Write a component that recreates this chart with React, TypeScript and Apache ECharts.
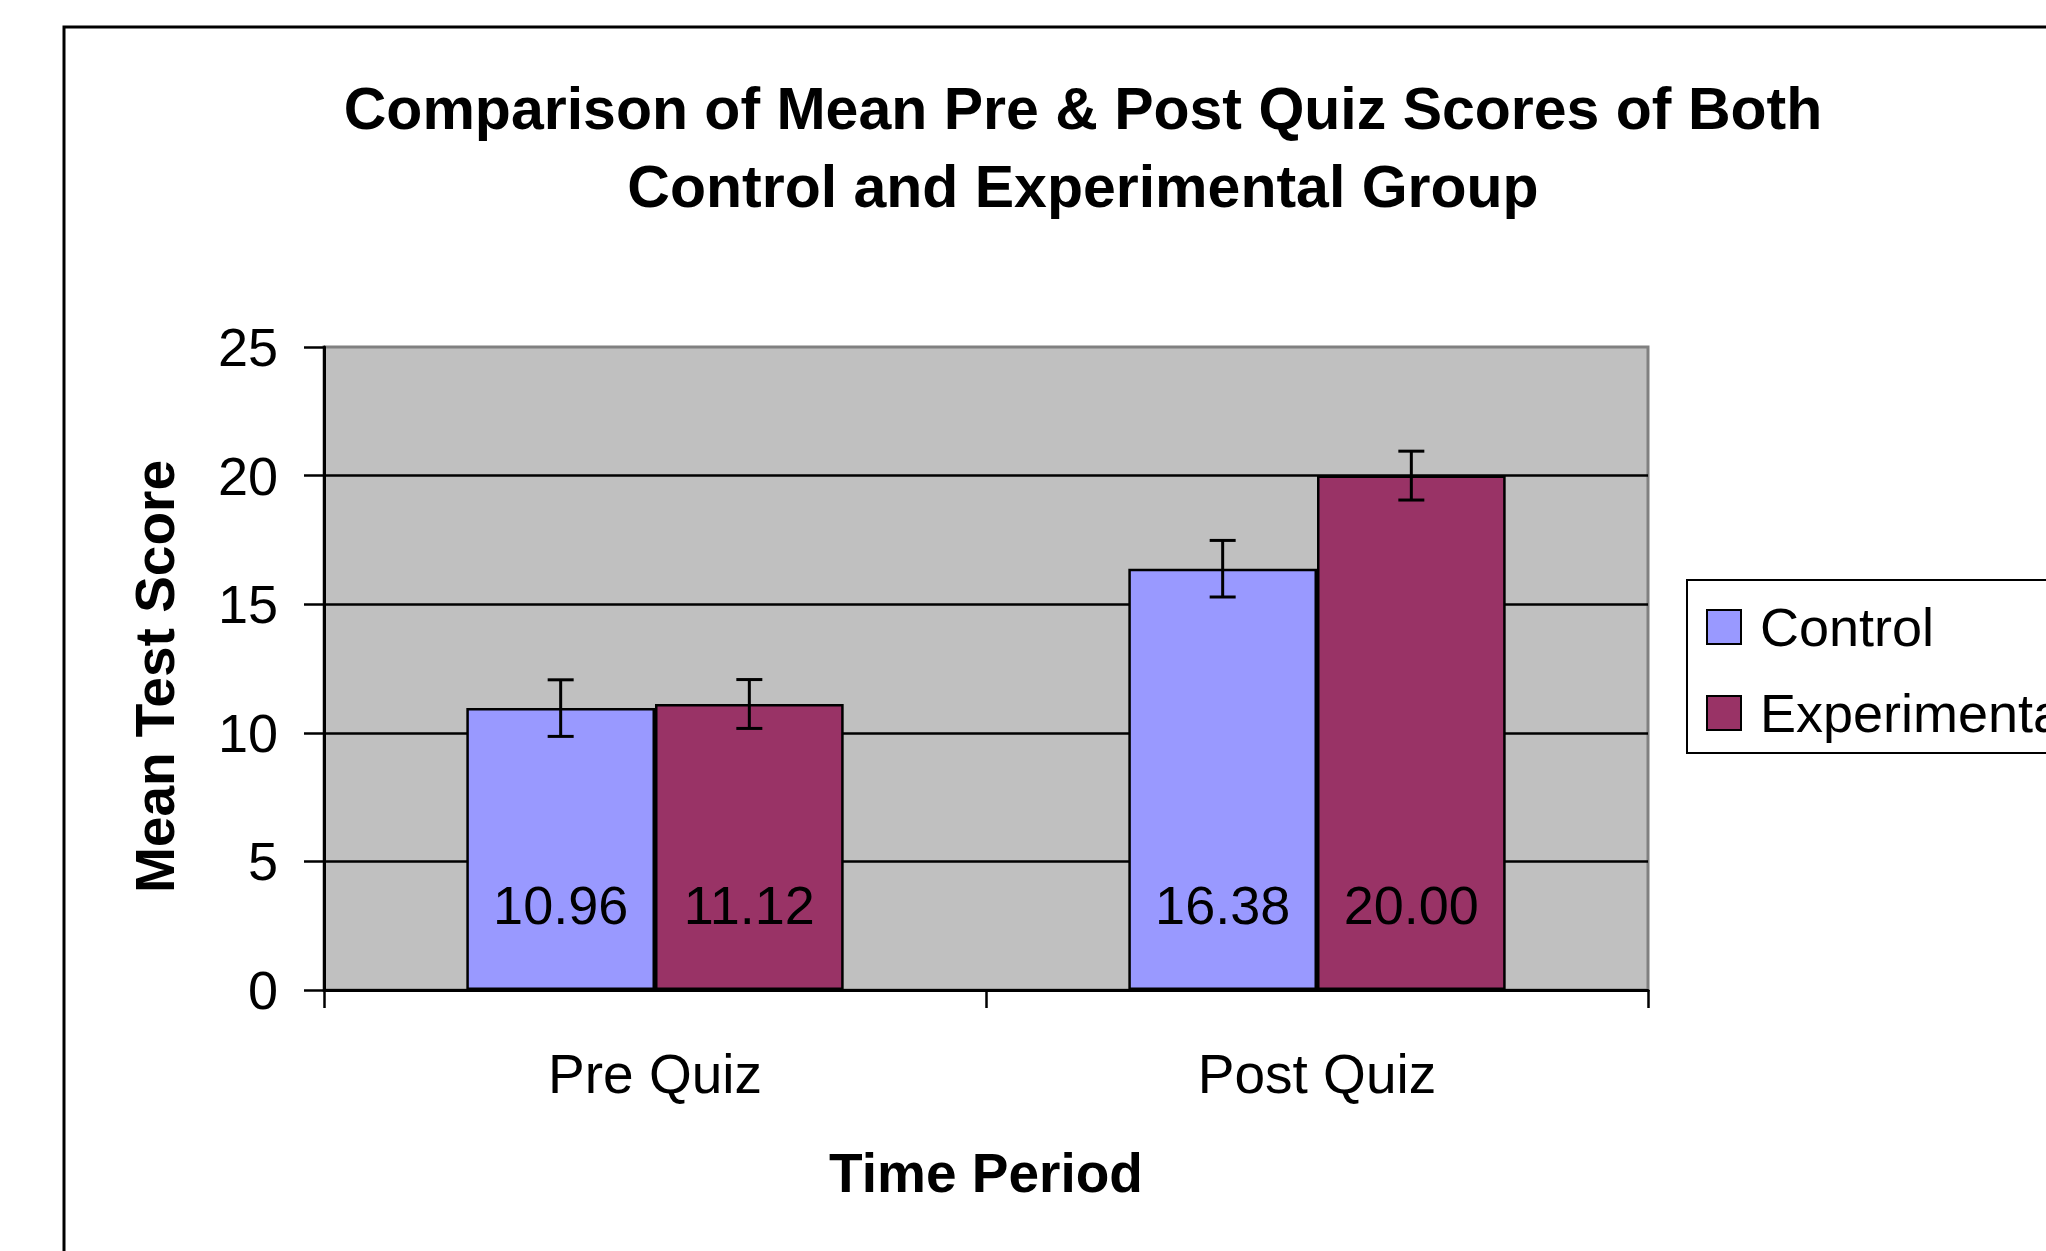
import React, { useEffect, useRef } from 'react';
import * as echarts from 'echarts';

const categories = ['Pre Quiz', 'Post Quiz'];
const seriesNames = ['Control', 'Experimental'];
const controlMeans = [10.96, 16.38];
const experimentalMeans = [11.12, 20.0];
const controlErrors = [1.1, 1.1];
const experimentalErrors = [0.95, 0.95];
const yMin = 0;
const yMax = 25;
const yInterval = 5;

const titleText = 'Comparison of Mean Pre & Post Quiz Scores of Both\nControl and Experimental Group';
const xAxisTitle = 'Time Period';
const yAxisTitle = 'Mean Test Score';

const FONT = '"Liberation Sans", Arial, Helvetica, sans-serif';
const BAR_CATEGORY_GAP = 0.43;
const CONTROL_COLOR = '#9999FF';
const EXP_COLOR = '#993366';

export default function App() {
  const ref = useRef<HTMLDivElement>(null);

  useEffect(() => {
    if (!ref.current) return;
    const chart = echarts.init(ref.current, null, { renderer: 'svg' });

    const errData: number[][] = [];
    categories.forEach((_, i) => {
      errData.push([i, controlMeans[i], controlErrors[i], 0]);
      errData.push([i, experimentalMeans[i], experimentalErrors[i], 1]);
    });

    const barLabel = {
      show: true,
      position: 'insideBottom',
      distance: 58,
      color: '#000',
      fontFamily: FONT,
      fontSize: 54,
      formatter: (p: any) => Number(p.value).toFixed(2),
    };

    const option: any = {
      animation: false,
      backgroundColor: '#fff',
      textStyle: { fontFamily: FONT },
      graphic: [
        {
          type: 'rect',
          z: 0,
          shape: { x: 64, y: 27, width: 2300, height: 1500 },
          style: { fill: 'none', stroke: '#000', lineWidth: 3 },
        },
        {
          type: 'text',
          z: 10,
          x: 1083,
          y: 148,
          style: {
            text: titleText,
            fill: '#000',
            font: `bold 59px ${FONT}`,
            lineHeight: 78,
            textAlign: 'center',
            textVerticalAlign: 'middle',
          },
        },
      ],
      legend: {
        data: seriesNames,
        orient: 'vertical',
        left: 1687,
        top: 580,
        itemWidth: 34,
        itemHeight: 34,
        itemGap: 32,
        padding: [20, 30, 13, 19],
        borderColor: '#000',
        borderWidth: 2,
        backgroundColor: '#fff',
        icon: 'rect',
        textStyle: {
          fontFamily: FONT,
          fontSize: 54,
          lineHeight: 54,
          color: '#000',
          padding: [0, 0, 0, 14],
        },
      },
      grid: {
        left: 324,
        top: 347,
        width: 1324,
        height: 643,
        show: true,
        backgroundColor: '#C0C0C0',
        borderColor: '#808080',
        borderWidth: 3,
      },
      xAxis: {
        type: 'category',
        data: categories,
        axisLine: { show: true, lineStyle: { color: '#000', width: 3 } },
        axisTick: { show: true, inside: false, length: 18, alignWithLabel: false, lineStyle: { color: '#000', width: 2.5 } },
        axisLabel: { fontFamily: FONT, fontSize: 55, color: '#000', margin: 56 },
        splitLine: { show: false },
        name: xAxisTitle,
        nameLocation: 'middle',
        nameGap: 155,
        nameTextStyle: { fontFamily: FONT, fontSize: 55, fontWeight: 'bold', color: '#000' },
      },
      yAxis: {
        type: 'value',
        min: yMin,
        max: yMax,
        interval: yInterval,
        axisLine: { show: true, lineStyle: { color: '#000', width: 3 } },
        axisTick: { show: true, inside: false, length: 20, lineStyle: { color: '#000', width: 2.5 } },
        axisLabel: { fontFamily: FONT, fontSize: 54, color: '#000', margin: 46 },
        splitLine: { show: true, showMaxLine: false, lineStyle: { color: '#000', width: 2.5 } },
        name: yAxisTitle,
        nameLocation: 'middle',
        nameGap: 142,
        nameRotate: 90,
        nameTextStyle: { fontFamily: FONT, fontSize: 55, fontWeight: 'bold', color: '#000', padding: [0, 16, 0, 0] },
      },
      series: [
        {
          name: seriesNames[0],
          type: 'bar',
          data: controlMeans,
          barGap: '0%',
          barCategoryGap: `${BAR_CATEGORY_GAP * 100}%`,
          itemStyle: { color: CONTROL_COLOR, borderColor: '#000', borderWidth: 2.5 },
          label: barLabel,
          z: 3,
        },
        {
          name: seriesNames[1],
          type: 'bar',
          data: experimentalMeans,
          barGap: '0%',
          barCategoryGap: `${BAR_CATEGORY_GAP * 100}%`,
          itemStyle: { color: EXP_COLOR, borderColor: '#000', borderWidth: 2.5 },
          label: barLabel,
          z: 3,
        },
        {
          name: 'errors',
          type: 'custom',
          data: errData,
          encode: { x: 0, y: 1 },
          z: 5,
          silent: true,
          renderItem: (params: any, api: any) => {
            const cat = api.value(0);
            const mean = api.value(1);
            const err = api.value(2);
            const which = api.value(3);
            const center = api.coord([cat, mean]);
            const bandW = api.size([1, 0])[0];
            const barW = (bandW * (1 - BAR_CATEGORY_GAP)) / 2;
            const x = center[0] + (which === 0 ? -barW / 2 : barW / 2);
            const top = api.coord([cat, mean + err])[1];
            const bot = api.coord([cat, mean - err])[1];
            const cap = 13;
            const style = { stroke: '#000', lineWidth: 3 };
            return {
              type: 'group',
              children: [
                { type: 'line', shape: { x1: x, y1: top, x2: x, y2: bot }, style },
                { type: 'line', shape: { x1: x - cap, y1: top, x2: x + cap, y2: top }, style },
                { type: 'line', shape: { x1: x - cap, y1: bot, x2: x + cap, y2: bot }, style },
              ],
            };
          },
        },
      ],
    };

    chart.setOption(option);
    return () => chart.dispose();
  }, []);

  return (
    <div
      ref={ref}
      style={{ position: 'fixed', left: 0, top: 0, width: 2046, height: 1251, background: '#fff' }}
    />
  );
}
